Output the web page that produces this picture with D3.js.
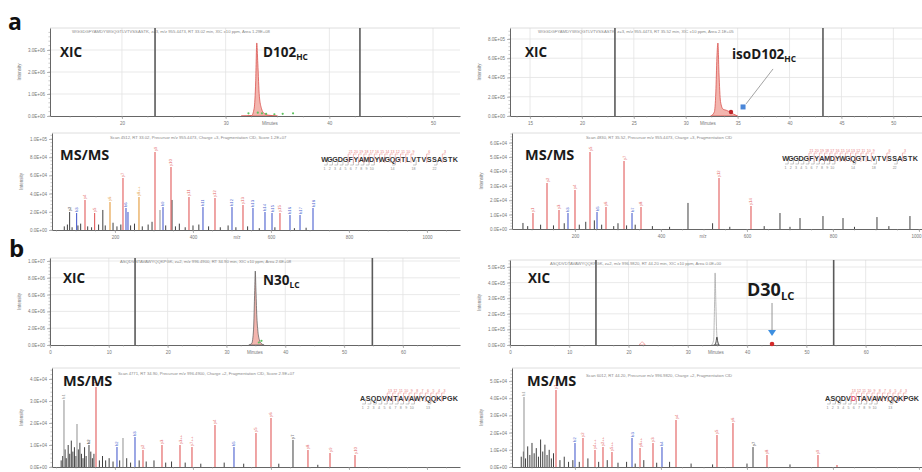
<!DOCTYPE html>
<html><head><meta charset="utf-8">
<script src="https://cdn.jsdelivr.net/npm/d3@7"></script>
<style>body{margin:0;background:#fff}svg{display:block}</style>
</head><body>
<script>
// ================= DATA =================
// retention-time axes (min)
const rtExtentA1 = [13.06, 52.6], rtTicksA1 = [20, 30, 40, 50];
const rtExtentA2 = [13.07, 52.76], rtTicksA2 = [15, 20, 25, 30, 35, 40, 45, 50];
const rtExtentB1 = [0, 69.7], rtTicksB1 = [0, 10, 20, 30, 40, 50, 60];
const rtExtentB2 = [0, 69.5], rtTicksB2 = [0, 10, 20, 30, 40, 50, 60];
// XIC intensity axes
const xicMaxA1 = 4e6, xicTicksA1 = [0, 1e6, 2e6, 3e6];
const xicMaxA2 = 9.14e5, xicTicksA2 = [0, 2e5, 4e5, 6e5, 8e5];
const xicMaxB1 = 1.036e7, xicTicksB1 = [0, 2e6, 4e6, 6e6, 8e6, 1e7];
const xicMaxB2 = 5.45e5, xicTicksB2 = [0, 1e5, 2e5, 3e5, 4e5, 5e5];
// RT integration windows (dark vertical lines)
const rtWindowA1 = [23.19, 42.95];
const rtWindowA2 = [23.18, 43.22];
const rtWindowB1 = [14.46, 54.8];
const rtWindowB2 = [14.5, 54.6];
// XIC traces [RT, intensity]
const xicA1 = [[31.5,0],[32.5,0.02e6],[32.75,0.35e6],[32.9,1.6e6],[33.0,3.32e6],[33.1,2.4e6],[33.25,0.9e6],[33.45,0.35e6],[33.7,0.12e6],[34.1,0.04e6],[35,0]];
const xicA1Iso = [[32.2,0.12e6],[33.1,0.15e6],[33.5,0.12e6],[33.9,0.1e6],[34.7,0.08e6],[35.5,0.1e6],[36.5,0.12e6]];
const xicA2 = [[32.4,0],[32.75,0.4e5],[32.9,2.5e5],[33.0,6.0e5],[33.1,7.58e5],[33.2,4.5e5],[33.35,1.5e5],[33.6,0.7e5],[33.9,0.6e5],[34.2,0.45e5],[34.6,0.2e5],[35.0,0]];
const xicA2Marks = [[34.36,0.42e5,"obs"],[35.52,0.94e5,"target"]];
const xicB1 = [[33.8,0],[34.3,0.2e6],[34.6,1.8e6],[34.8,6.5e6],[34.9,8.81e6],[35.0,6.8e6],[35.15,3.6e6],[35.35,1.6e6],[35.6,0.6e6],[35.9,0.2e6],[36.4,0]];
const xicB1Iso = [[35.5,0.3e6],[35.95,0.5e6]];
const xicB2Other = [[34.0,0],[34.35,0.3e5],[34.5,2.5e5],[34.6,4.62e5],[34.72,2.8e5],[34.9,0.6e5],[35.2,0]];
const xicB2 = [[34.5,0],[34.75,0.2e5],[34.9,0.51e5],[35.05,0.2e5],[35.3,0]];
const xicB2Minor = [[21.8,0],[22.3,0.19e5],[22.8,0]];
const xicB2Marks = [[44.2,0.0,"obs"],[44.2,0.77e5,"target"]];

// MS/MS axes
const mzExtentA = [38.5, 1084.6], mzExtentB = [53.5, 1007], mzTicks = [200, 400, 600, 800, 1000];
const msMaxA1 = 1.066e5, msTicksA1 = [0, 2e4, 4e4, 6e4, 8e4, 1e5];
const msMaxA2 = 6.67e4, msTicksA2 = [0, 1e4, 2e4, 3e4, 4e4, 5e4, 6e4];
const msMaxB1 = 4.5e4, msTicksB1 = [0, 1e4, 2e4, 3e4, 4e4];
const msMaxB2 = 5.76e4, msTicksB2 = [0, 1e4, 2e4, 3e4, 4e4, 5e4];
// MS/MS peaks [m/z, intensity, ion type, label]
const msA1 = [
 [302.6,85700,"y","y9"],[343.6,69200,"y","y10"],[220.5,57100,"y","y7"],[261.5,36300,"o","y8++"],
 [389.7,36300,"y","y11"],[456.4,35200,"y","y12"],[123.1,33000,"y","y4"],[187.2,30800,"o","y6"],
 [228.2,24200,"b","b6"],[323.1,25300,"b","b9"],[528.2,27500,"y","y13"],[425.6,25300,"b","b11"],
 [500.0,25300,"b","b12"],[553.8,24200,"b","b13"],[584.6,19800,"b","b14"],[602.6,18700,"b","b15"],
 [623.0,18700,"y","y15"],[648.7,16500,"b","b16"],[674.4,16500,"b","b17"],[707.7,24200,"b","b18"],
 [346.2,33000,"n",""],[83.7,19800,"n","y2"],[168.8,22000,"n",""],[101.6,18700,"b","b3"],
 [147.8,18700,"y","y5"],[233.3,19800,"b",""],[315.4,22000,"g",""],
 [70,4000,"n",""],[78,6000,"n",""],[90,3000,"n",""],[105,5000,"n",""],[112,7000,"n",""],[130,4000,"n",""],
 [140,3000,"n",""],[158,6000,"n",""],[175,5000,"n",""],[195,8000,"n",""],[205,4000,"n",""],[215,6000,"n",""],
 [240,5000,"n",""],[250,7000,"n",""],[270,4000,"n",""],[285,6000,"n",""],[295,9000,"n",""],[330,5000,"n",""],
 [355,4000,"n",""],[365,7000,"n",""],[380,3000,"n",""],[400,5000,"n",""],[415,6000,"n",""],[440,4000,"n",""],
 [470,3000,"n",""],[490,5000,"n",""],[510,3000,"n",""],[540,4000,"n",""],[570,2000,"n",""],[610,3000,"n",""],
 [660,2000,"n",""],[690,2500,"n",""]
];
const msA2 = [
 [234.9,53500,"y","y5"],[314.0,47200,"y","y7"],[134.9,31900,"y","y2"],[200.0,27100,"y","y4"],
 [534.9,35400,"y","y12"],[609.3,16000,"y","y14"],[102.3,11100,"y","y1"],[162.8,13200,"y","y3"],
 [272.1,15300,"y","y6"],[353.5,15300,"y","y8"],[183.7,11100,"b","b3"],[251.2,11800,"b","b5"],
 [332.6,11100,"b","b7"],[462.8,18100,"n",""],[676.7,11100,"n",""],[723.3,7600,"n",""],[776.7,9000,"n",""],
 [823.3,7600,"n",""],[902.3,8300,"n",""],[979.0,9000,"n",""],[79.0,4200,"n",""],
 [90,2000,"n",""],[120,3000,"n",""],[150,2500,"n",""],[175,4000,"n",""],[210,3000,"n",""],[225,5000,"n",""],
 [245,6000,"n",""],[262,3000,"n",""],[290,2000,"n",""],[300,4000,"n",""],[320,2500,"n",""],[340,3000,"n",""],
 [380,2000,"n",""],[420,1500,"n",""],[520,4000,"n",""],[560,1500,"n",""],[640,2000,"n",""],[700,1500,"n",""],
 [850,1500,"n",""],[930,2000,"n",""]
];
const msB1 = [
 [151.3,36400,"y","y1"],[69.2,30500,"g","b1"],[102.6,19500,"g",""],[456.4,19100,"y","y4"],
 [600.0,22300,"y","y6"],[561.5,15500,"y","y5"],[656.4,12300,"n","y7"],[251.3,13600,"b","b3"],
 [205.1,9100,"b","b2"],[271.8,7700,"y","y2"],[320.5,10000,"y","y3"],[366.7,10000,"y","y3++"],
 [397.4,9100,"y","y7++"],[505.1,9100,"b","b5"],[694.8,7700,"y","y8"],[751.3,6400,"y","y9"],
 [815.4,5500,"y","y10"],[220.5,13200,"g",""],[133.3,10000,"n","b2"],
 [62,3000,"n",""],[66,5000,"n",""],[72,8000,"n",""],[75,4000,"n",""],[80,10000,"n",""],[84,6000,"n",""],
 [88,12000,"n",""],[92,7000,"n",""],[96,9000,"n",""],[100,5000,"n",""],[106,8000,"n",""],[110,11000,"n",""],
 [114,6000,"n",""],[118,4000,"n",""],[122,9000,"n",""],[126,5000,"n",""],[138,7000,"n",""],[142,4000,"n",""],
 [146,6000,"n",""],[160,3000,"n",""],[168,5000,"n",""],[176,3000,"n",""],[185,4000,"n",""],[195,2500,"n",""],
 [212,3000,"n",""],[230,4000,"n",""],[240,2000,"n",""],[262,3000,"n",""],[280,2500,"n",""],[300,3000,"n",""],
 [330,2000,"n",""],[345,2500,"n",""],[380,2000,"n",""],[420,1500,"n",""],[480,2000,"n",""],[530,1500,"n",""],
 [620,1500,"n",""],[720,1000,"n",""]
];
const msB2 = [
 [155.8,44800,"y","y1"],[81.4,40700,"g","b1"],[434.9,27300,"y","y4"],[567.4,25600,"y","y6"],
 [530.2,18600,"y","y5"],[614.0,11600,"n","y7"],[218.6,16900,"y","y2"],[200.0,14000,"b","b2"],
 [332.6,16900,"b","b3"],[381.4,14000,"y","y3"],[402.3,11600,"b","b4"],[265.1,11600,"y","y2++"],
 [351.2,11000,"y","y6++"],[246.5,9900,"y","y4++"],[286.0,8700,"y","y5++"],[646.5,7000,"y","y8"],
 [765.1,7000,"y","y9"],[809.3,1200,"y",""],
 [75,6000,"n",""],[80,9000,"n",""],[85,5000,"n",""],[90,12000,"n",""],[95,7000,"n",""],[100,14000,"n",""],
 [105,8000,"n",""],[110,11000,"n",""],[115,6000,"n",""],[120,16000,"n",""],[125,9000,"n",""],[130,13000,"n",""],
 [135,7000,"n",""],[140,10000,"n",""],[145,5000,"n",""],[150,8000,"n",""],[165,4000,"n",""],[175,6000,"n",""],
 [185,3000,"n",""],[195,4000,"n",""],[210,3000,"n",""],[230,5000,"n",""],[255,3000,"n",""],[275,4000,"n",""],
 [300,2500,"n",""],[320,3000,"n",""],[340,2000,"n",""],[360,4000,"n",""],[390,2500,"n",""],[420,3000,"n",""],
 [470,2000,"n",""],[520,1500,"n",""],[600,2000,"n",""],[700,1500,"n",""]
];
// peptide sequences and matched fragment positions
const seqA1 = "WGGDGFYAMDYWGQGTLVTVSSASTK", seqA2 = "WGGDGFYAMDYWGQGTLVTVSSASTK";
const seqB1 = "ASQDVNTAVAWYQQKPGK", seqB2 = "ASQDVDTAVAWYQQKPGK";
const bIonsA = [1,2,3,4,5,6,7,8,9,10,14,18,22];
const yIonsA = [3,6,9,10,11,12,13,14,15,16,17,18,19,20,21];
const bIonsB = [1,2,3,4,5,6,7,8,9,10,13];
const yIonsB = [3,4,5,6,7,8,9,10,11,12,13];
const modSiteB2 = 5;
// texts
const panelLetters = ["a", "b"];
const xicNames = [["D102","HC"],["isoD102","HC"],["N30","LC"],["D30","LC"]];
const xicTitles = [
 "WGGDGFYAMDYWGQGTLVTVSSASTK, z=3, m/z 955.4473, RT 33.02 min, XIC \u00b110 ppm, Area 1.29E+08",
 "WGGDGFYAMDYWGQGTLVTVSSASTK, z=3, m/z 955.4473, RT 35.52 min, XIC \u00b110 ppm, Area 2.1E+05",
 "ASQDVNTAVAWYQQKPGK, z=2, m/z 996.4900, RT 34.90 min, XIC \u00b110 ppm, Area 2.6E+08",
 "ASQDVDTAVAWYQQKPGK, z=2, m/z 996.9820, RT 44.20 min, XIC \u00b110 ppm, Area 0.0E+00"
];
const msTitles = [
 "Scan 4512, RT 33.02, Precursor m/z 955.4473, Charge +3, Fragmentation CID, Score 1.2E+07",
 "Scan 4830, RT 35.52, Precursor m/z 955.4473, Charge +3, Fragmentation CID",
 "Scan 4771, RT 34.90, Precursor m/z 996.4900, Charge +2, Fragmentation CID, Score 2.9E+07",
 "Scan 6012, RT 44.20, Precursor m/z 996.9820, Charge +2, Fragmentation CID"
];

// ================= DRAWING =================
const svg = d3.select("body").append("svg").attr("width", 922).attr("height", 472)
  .style("font-family", "'Liberation Sans', Arial, sans-serif");
svg.append("defs").append("clipPath").attr("id", "clipL")
  .append("rect").attr("x", 0).attr("y", 0).attr("width", 461).attr("height", 472);

const ionColor = {y: "#e25b5b", b: "#4b5fcf", n: "#2a2a2a", g: "#9a9a9a", o: "#e49a3a"};
const BOLD = "'Open Sans', 'Noto Sans', sans-serif";

function sci(v) {
  if (v === 0) return "0.0E+00";
  const [m, e] = d3.format(".1e")(v).split("e");
  const n = +e;
  return m + "E" + (n < 0 ? "-" : "+") + String(Math.abs(n)).padStart(2, "0");
}

function axes(g, x, y, box, xTicks, yTicks, xFmt, xName, yName, hideX) {
  const ya = g.append("g").attr("transform", `translate(${box.l},0)`)
    .call(d3.axisLeft(y).tickValues(yTicks).tickSize(3).tickSizeOuter(0).tickPadding(2).tickFormat(sci));
  const xa = g.append("g").attr("transform", `translate(0,${box.b})`)
    .call(d3.axisBottom(x).tickValues(xTicks).tickSize(3).tickSizeOuter(0).tickPadding(3).tickFormat(hideX ? () => "" : xFmt));
  [ya, xa].forEach(a => {
    a.select(".domain").attr("stroke", "#666").attr("stroke-width", 1);
    a.selectAll(".tick line").attr("stroke", "#888").attr("stroke-width", 0.6);
    a.selectAll("text").attr("font-size", 4.5).attr("fill", "#777");
  });
  xa.selectAll(".tick").filter(d => x(d) > 914).select("text").attr("dx", -3);
  const ystep = (yTicks[1] - yTicks[0]) / 5;
  g.append("g").selectAll("line").data(d3.range(0, y.domain()[1], ystep)).join("line")
    .attr("x1", box.l - 1.6).attr("x2", box.l).attr("y1", d => y(d)).attr("y2", d => y(d))
    .attr("stroke", "#999").attr("stroke-width", 0.5);
  const xstep = (xTicks[1] - xTicks[0]) / 4;
  g.append("g").selectAll("line").data(d3.range(xTicks[0] - 4 * xstep, x.domain()[1], xstep).filter(d => d >= x.domain()[0])).join("line")
    .attr("x1", d => x(d)).attr("x2", d => x(d)).attr("y1", box.b).attr("y2", box.b + 1.6)
    .attr("stroke", "#999").attr("stroke-width", 0.5);
  if (!hideX) g.append("text").attr("x", xName[1]).attr("y", box.b + 8.5).attr("text-anchor", "middle")
    .attr("font-size", 4.5).attr("fill", "#777").text(xName[0]);
  g.append("text").attr("transform", `translate(${box.l - 29},${(box.t + box.b) / 2}) rotate(-90)`)
    .attr("text-anchor", "middle").attr("font-size", 4.5).attr("fill", "#777").text(yName);
}

function bigLabel(g, x, y, size, main, sub) {
  const t = g.append("text").attr("x", x).attr("y", y).attr("font-family", BOLD)
    .attr("font-weight", 700).attr("font-size", size).attr("fill", "#1a1a1a");
  t.append("tspan").text(main);
  if (sub) t.append("tspan").attr("font-size", size * 0.62).attr("dy", size * 0.22).text(sub);
  return t;
}

function xicPanel(c) {
  const g = svg.append("g").attr("clip-path", c.clip ? "url(#clipL)" : null);
  const box = c.box;
  const x = d3.scaleLinear().domain(c.xDomain).range([box.l, box.r]);
  const y = d3.scaleLinear().domain([0, c.yMax]).range([box.b, box.t]);
  g.append("g").selectAll("line").data(c.xTicks).join("line")
    .attr("x1", d => x(d)).attr("x2", d => x(d)).attr("y1", box.t).attr("y2", box.b)
    .attr("stroke", "#e3e3e3").attr("stroke-width", 0.8);
  g.append("g").selectAll("line").data(c.yTicks.slice(1)).join("line")
    .attr("x1", box.l).attr("x2", box.r).attr("y1", d => y(d)).attr("y2", d => y(d))
    .attr("stroke", "#e3e3e3").attr("stroke-width", 0.8);
  g.append("line").attr("x1", box.l).attr("x2", box.r).attr("y1", box.t).attr("y2", box.t)
    .attr("stroke", "#d5d5d5").attr("stroke-width", 0.8);
  g.append("text").attr("x", c.titleX).attr("y", box.t + 5).attr("font-size", 4.2).attr("fill", "#888").text(c.title);
  g.append("g").selectAll("line").data(c.window).join("line")
    .attr("x1", d => x(d)).attr("x2", d => x(d)).attr("y1", box.t).attr("y2", box.b)
    .attr("stroke", "#5a5a5a").attr("stroke-width", 1.6);
  const area = d3.area().x(d => x(d[0])).y0(y(0)).y1(d => y(d[1])).curve(d3.curveMonotoneX);
  (c.traces || []).forEach(tr => {
    g.append("path").datum(tr.data).attr("d", area).attr("fill", tr.fill)
      .attr("stroke", tr.stroke).attr("stroke-width", tr.sw || 0.8);
  });
  (c.iso || []).forEach(d => {
    g.append("circle").attr("cx", x(d[0])).attr("cy", y(d[1])).attr("r", 1.1).attr("fill", "#5fc25f");
  });
  axes(g, x, y, box, c.xTicks, c.yTicks, d3.format("d"), ["Minutes", c.minutesX], "Intensity", false);
  return {g, x, y};
}

function msPanel(c) {
  const g = svg.append("g").attr("clip-path", c.clip ? "url(#clipL)" : null);
  const box = c.box;
  const x = d3.scaleLinear().domain(c.xDomain).range([box.l, box.r]);
  const y = d3.scaleLinear().domain([0, c.yMax]).range([box.b, box.t]);
  g.append("line").attr("x1", box.l).attr("x2", box.r).attr("y1", box.t).attr("y2", box.t)
    .attr("stroke", "#d5d5d5").attr("stroke-width", 0.8);
  g.append("text").attr("x", c.titleX).attr("y", c.titleY).attr("font-size", 4.2).attr("fill", "#888").text(c.title);
  const sorted = c.peaks.slice().sort((a, b) => (a[2] === "n") - (b[2] === "n"));
  g.append("g").selectAll("line").data(sorted.reverse()).join("line")
    .attr("x1", d => x(d[0])).attr("x2", d => x(d[0])).attr("y1", y(0)).attr("y2", d => y(d[1]))
    .attr("stroke", d => ionColor[d[2]]).attr("stroke-width", d => d[2] === "n" ? 0.9 : 1.1);
  g.append("g").selectAll("text").data(c.peaks.filter(d => d[3])).join("text")
    .attr("transform", d => `translate(${x(d[0]) + 1.5},${y(d[1]) - 1}) rotate(-90)`)
    .attr("font-size", 4.2).attr("fill", d => ionColor[d[2]]).text(d => d[3]);
  axes(g, x, y, box, mzTicks, c.yTicks, d3.format("d"), ["m/z", c.mzX], "Intensity", c.hideX);
  bigLabel(g, c.labelX, c.labelY, 14.5, "MS/MS");
  // sequence
  const seq = c.seq.split("");
  const sx = d3.scaleBand().domain(d3.range(seq.length)).range([c.seqX, c.seqX + c.seqW]);
  const sy = c.seqY;
  g.append("g").selectAll("text").data(seq).join("text")
    .attr("x", (d, i) => sx(i) + sx.bandwidth() / 2).attr("y", sy).attr("text-anchor", "middle")
    .attr("font-family", "'Liberation Sans Narrow', 'Liberation Sans', sans-serif").attr("font-weight", 700)
    .attr("font-size", 7.2).attr("fill", (d, i) => i === c.mod ? "#e0506a" : "#333").text(d => d);
  const bw = sx.bandwidth();
  g.append("g").selectAll("path").data(c.bIons).join("path")
    .attr("d", k => `M${sx(k) - bw * 0.6},${sy + 3} L${sx(k)},${sy + 3} L${sx(k)},${sy - 2}`)
    .attr("fill", "none").attr("stroke", "#8a8a8a").attr("stroke-width", 0.5);
  g.append("g").selectAll("text").data(c.bIons).join("text")
    .attr("x", k => sx(k) - bw * 0.5).attr("y", sy + 7.5).attr("text-anchor", "middle")
    .attr("font-size", 3.6).attr("fill", "#8a8a8a").text(k => k);
  g.append("g").selectAll("path").data(c.yIons).join("path")
    .attr("d", k => { const p = sx(seq.length - k); return `M${p},${sy + 1} L${p},${sy - 8} L${p + bw * 0.6},${sy - 8}`; })
    .attr("fill", "none").attr("stroke", "#e77b7b").attr("stroke-width", 0.5);
  g.append("g").selectAll("text").data(c.yIons).join("text")
    .attr("x", k => sx(seq.length - k) + bw * 0.5).attr("y", sy - 9.5).attr("text-anchor", "middle")
    .attr("font-size", 3.6).attr("fill", "#e77b7b").text(k => k);
  return {g, x, y};
}

// ---- panel letters ----
svg.append("text").attr("x", 8).attr("y", 30).attr("font-family", BOLD).attr("font-weight", 700)
  .attr("font-size", 23).attr("fill", "#111").text(panelLetters[0]);
svg.append("text").attr("x", 9).attr("y", 257).attr("font-family", BOLD).attr("font-weight", 700)
  .attr("font-size", 24).attr("fill", "#111").text(panelLetters[1]);

const pinkFill = "#f3b5ae", redLine = "#d9534f";

// ---- panel a XIC ----
const pA1 = xicPanel({clip: true, box: {l: 50, r: 460, t: 28, b: 116}, xDomain: rtExtentA1, xTicks: rtTicksA1,
  yMax: xicMaxA1, yTicks: xicTicksA1, window: rtWindowA1, title: xicTitles[0], titleX: 72, minutesX: 270,
  traces: [{data: xicA1, fill: pinkFill, stroke: redLine}], iso: xicA1Iso});
bigLabel(pA1.g, 60, 57, 13.5, "XIC");
bigLabel(pA1.g, 263, 57, 13.5, xicNames[0][0], xicNames[0][1]);

const pA2 = xicPanel({clip: false, box: {l: 510, r: 922, t: 28, b: 116}, xDomain: rtExtentA2, xTicks: rtTicksA2,
  yMax: xicMaxA2, yTicks: xicTicksA2, window: rtWindowA2, title: xicTitles[1], titleX: 538, minutesX: 708,
  traces: [{data: xicA2, fill: pinkFill, stroke: redLine}]});
bigLabel(pA2.g, 525, 57, 13.5, "XIC");
bigLabel(pA2.g, 732, 59, 13.5, xicNames[1][0], xicNames[1][1]);
{
  const t = xicA2Marks.find(d => d[2] === "target"), o = xicA2Marks.find(d => d[2] === "obs");
  const tx = pA2.x(t[0]), ty = pA2.y(t[1]);
  pA2.g.append("line").attr("x1", tx + 30).attr("y1", ty - 38).attr("x2", tx + 3).attr("y2", ty - 3)
    .attr("stroke", "#999").attr("stroke-width", 0.9);
  pA2.g.append("circle").attr("cx", pA2.x(o[0])).attr("cy", pA2.y(o[1])).attr("r", 2.2).attr("fill", "#c0262b");
  pA2.g.append("rect").attr("x", tx - 2.5).attr("y", ty - 2.5).attr("width", 5).attr("height", 5).attr("fill", "#4a86d8");
}

// ---- MS/MS a ----
msPanel({clip: true, box: {l: 52, r: 460, t: 133, b: 230}, xDomain: mzExtentA, yMax: msMaxA1, yTicks: msTicksA1,
  peaks: msA1, title: msTitles[0], titleX: 110, titleY: 139, mzX: 237, labelX: 60, labelY: 160,
  seq: seqA1, seqX: 322, seqY: 162, seqW: 136, bIons: bIonsA, yIons: yIonsA, mod: -1, hideX: false});
msPanel({clip: false, box: {l: 512, r: 922, t: 133, b: 229}, xDomain: mzExtentB, yMax: msMaxA2, yTicks: msTicksA2,
  peaks: msA2, title: msTitles[1], titleX: 586, titleY: 139, mzX: 703, labelX: 525, labelY: 160,
  seq: seqA2, seqX: 783, seqY: 161, seqW: 135, bIons: bIonsA, yIons: yIonsA, mod: -1, hideX: false});

// ---- panel b XIC ----
const pB1 = xicPanel({clip: true, box: {l: 50, r: 460, t: 258, b: 345}, xDomain: rtExtentB1, xTicks: rtTicksB1,
  yMax: xicMaxB1, yTicks: xicTicksB1, window: rtWindowB1, title: xicTitles[2], titleX: 120, minutesX: 255,
  traces: [{data: xicB1, fill: pinkFill, stroke: "#555", sw: 0.7}], iso: xicB1Iso});
bigLabel(pB1.g, 63, 283, 13.5, "XIC");
bigLabel(pB1.g, 263, 285, 13.5, xicNames[2][0], xicNames[2][1]);

const pB2 = xicPanel({clip: false, box: {l: 510, r: 922, t: 260, b: 345}, xDomain: rtExtentB2, xTicks: rtTicksB2,
  yMax: xicMaxB2, yTicks: xicTicksB2, window: rtWindowB2, title: xicTitles[3], titleX: 550, minutesX: 716,
  traces: [{data: xicB2Other, fill: "none", stroke: "#a8a8a8", sw: 0.8},
           {data: xicB2Minor, fill: "none", stroke: "#e88", sw: 0.7},
           {data: xicB2, fill: "#ddd", stroke: "#333", sw: 0.8}]});
bigLabel(pB2.g, 528, 283, 13.5, "XIC");
bigLabel(pB2.g, 747, 296, 18, xicNames[3][0], xicNames[3][1]);
{
  const t = xicB2Marks.find(d => d[2] === "target"), o = xicB2Marks.find(d => d[2] === "obs");
  const tx = pB2.x(t[0]), ty = pB2.y(t[1]);
  pB2.g.append("line").attr("x1", tx).attr("y1", ty - 30).attr("x2", tx).attr("y2", ty - 3)
    .attr("stroke", "#888").attr("stroke-width", 0.9);
  pB2.g.append("path").attr("d", `M${tx - 4},${ty - 3} L${tx + 4},${ty - 3} L${tx},${ty + 3} Z`).attr("fill", "#3d8fe0");
  pB2.g.append("circle").attr("cx", pB2.x(o[0])).attr("cy", pB2.y(o[1]) - 1).attr("r", 2.3).attr("fill", "#d42a2a");
}

// ---- MS/MS b (x-axis labels fall below the figure edge) ----
msPanel({clip: true, box: {l: 52, r: 460, t: 368, b: 467}, xDomain: mzExtentA, yMax: msMaxB1, yTicks: msTicksB1,
  peaks: msB1, title: msTitles[2], titleX: 118, titleY: 375, mzX: 237, labelX: 63, labelY: 386,
  seq: seqB1, seqX: 360, seqY: 401, seqW: 98, bIons: bIonsB, yIons: yIonsB, mod: -1, hideX: true});
msPanel({clip: false, box: {l: 512, r: 922, t: 368, b: 467}, xDomain: mzExtentB, yMax: msMaxB2, yTicks: msTicksB2,
  peaks: msB2, title: msTitles[3], titleX: 586, titleY: 377, mzX: 703, labelX: 527, labelY: 386,
  seq: seqB2, seqX: 825, seqY: 401, seqW: 94, bIons: bIonsB, yIons: yIonsB, mod: modSiteB2, hideX: true});
</script>
</body></html>
